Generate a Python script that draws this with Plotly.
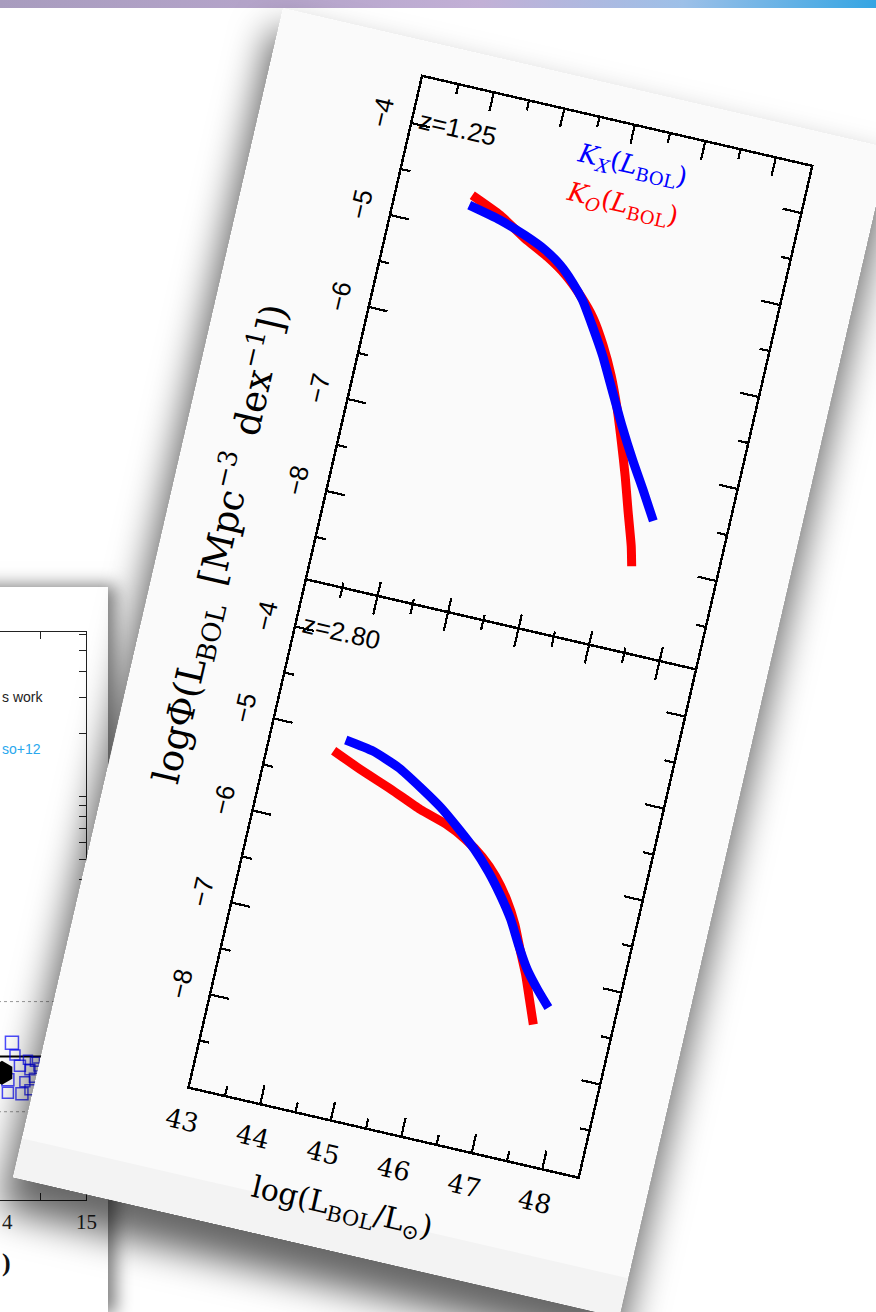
import plotly.graph_objects as go

# ---- Bolometric luminosity functions (log L_BOL [erg/s], log Phi [Mpc^-3 dex^-1]) ----
# z = 1.25
lum_kx_z125 = [44.02, 44.48, 44.87, 45.18, 45.43, 45.65, 45.84, 46.05, 46.28, 46.52, 46.76, 47.02, 47.25, 47.48]
phi_kx_z125 = [-4.71, -4.79, -4.89, -4.99, -5.11, -5.26, -5.42, -5.66, -5.94, -6.28, -6.62, -6.96, -7.24, -7.53]
lum_ko_z125 = [44.03, 44.47, 44.87, 45.24, 45.53, 45.80, 46.04, 46.26, 46.46, 46.64, 46.80, 46.96, 47.11, 47.26, 47.33]
phi_ko_z125 = [-4.60, -4.74, -4.92, -5.06, -5.20, -5.38, -5.58, -5.84, -6.13, -6.45, -6.78, -7.13, -7.49, -7.84, -8.05]
# z = 2.80
lum_kx_z280 = [44.02, 44.42, 44.82, 45.17, 45.51, 45.82, 46.09, 46.35, 46.58, 46.80, 46.98, 47.18, 47.38, 47.58]
phi_kx_z280 = [-5.05, -5.10, -5.21, -5.36, -5.52, -5.70, -5.87, -6.07, -6.28, -6.51, -6.75, -6.99, -7.17, -7.33]
lum_ko_z280 = [43.89, 44.31, 44.78, 45.24, 45.63, 45.94, 46.22, 46.46, 46.68, 46.87, 47.02, 47.17, 47.30, 47.43]
phi_ko_z280 = [-5.19, -5.32, -5.45, -5.59, -5.68, -5.79, -5.93, -6.10, -6.31, -6.55, -6.80, -7.04, -7.29, -7.54]

redshift_labels = ["z=1.25", "z=2.80"]
x_ticks = [43, 44, 45, 46, 47, 48]
x_minor = [43.5, 44.5, 45.5, 46.5, 47.5, 48.5]
y_ticks = [-8, -7, -6, -5, -4]
y_minor = [-8.5, -7.5, -6.5, -5.5, -4.5]

# ---- neighbouring panel (only its right-hand edge is in view) ----
inset_x_ticks = [14, 15]
inset_x_labels = ["4", "15"]
inset_sq_x = [14.194, 14.227, 14.368, 14.444, 14.281, 14.390, 14.477, 14.150, 14.335, 14.433, 14.150, 14.303, 14.390]
inset_sq_y = [0.0654, 0.0572, 0.0542, 0.0530, 0.0507, 0.0485, 0.0501, 0.0434, 0.0425, 0.0444, 0.0376, 0.0372, 0.0389]
inset_sq_size = [13, 10, 9, 9, 11, 10, 8, 12, 10, 9, 11, 12, 10]
inset_dot_x = [14.085]
inset_dot_y = [0.0469]
inset_ref_levels = [0.1032, 0.0305]
inset_mean_level = 0.0562
inset_notes = ["s work", "so+12"]

BLUE = "#0000ff"
RED = "#ff0000"
SLIDE = "#fafafa"
SERIF = "DejaVu Serif"
SANS = "Liberation Sans"

fig = go.Figure()
for xs, ys, col, ax, ay in [
    (lum_ko_z125, phi_ko_z125, RED, "x", "y"),
    (lum_kx_z125, phi_kx_z125, BLUE, "x", "y"),
    (lum_ko_z280, phi_ko_z280, RED, "x2", "y2"),
    (lum_kx_z280, phi_kx_z280, BLUE, "x2", "y2"),
]:
    fig.add_trace(go.Scatter(x=xs, y=ys, mode="lines", xaxis=ax, yaxis=ay,
                             line=dict(color=col, width=9, shape="spline", smoothing=0.5),
                             hoverinfo="skip"))

tick_style = dict(showline=True, linecolor="black", linewidth=2.5, mirror="allticks",
                  ticks="inside", ticklen=18, tickwidth=2.2, tickcolor="black",
                  showgrid=False, zeroline=False)


def x_axis(anchor, labels):
    return dict(tick_style, anchor=anchor, domain=[0, 1], range=[43, 48.5],
                tickmode="array", tickvals=x_ticks, ticktext=[str(v) for v in x_ticks],
                showticklabels=labels, ticklabelstandoff=10,
                tickfont=dict(family=SERIF, size=26, color="black"),
                minor=dict(tickmode="array", tickvals=x_minor, ticks="inside",
                           ticklen=9, tickwidth=2.2, tickcolor="black", showgrid=False))


def y_axis(anchor, domain):
    return dict(tick_style, anchor=anchor, domain=domain, range=[-9, -3.5],
                tickmode="array", tickvals=y_ticks,
                ticktext=["\u2212" + str(abs(v)) for v in y_ticks],
                tickangle=-90, ticklabelstandoff=10,
                tickfont=dict(family=SANS, size=26, color="black"),
                minor=dict(tickmode="array", tickvals=y_minor, ticks="inside",
                           ticklen=9, tickwidth=2.2, tickcolor="black", showgrid=False))


ann = []
for lab, ax, ay in zip(redshift_labels, ["x", "x2"], ["y", "y2"]):
    ann.append(dict(text=lab, xref=ax, yref=ay, x=43, y=-3.95, xanchor="left",
                    yanchor="middle", xshift=4, showarrow=False,
                    font=dict(family=SANS, size=26, color="black")))
ann.append(dict(text="<i>K</i><sub><i>X</i></sub>(<i>L</i><sub>BOL</sub>)", xref="x", yref="y",
                x=46.9, y=-3.92, xanchor="right", yanchor="middle", showarrow=False,
                font=dict(family=SERIF, size=26, color=BLUE)))
ann.append(dict(text="<i>K</i><sub><i>O</i></sub>(<i>L</i><sub>BOL</sub>)", xref="x", yref="y",
                x=46.9, y=-4.34, xanchor="right", yanchor="middle", showarrow=False,
                font=dict(family=SERIF, size=26, color=RED)))
ann.append(dict(text="log(L<sub>BOL</sub>/L<sub>\u2299</sub>)", xref="x2", yref="paper",
                x=45.42, y=0, yshift=-84, xanchor="center", yanchor="middle", showarrow=False,
                font=dict(family=SERIF, size=30, color="black")))
ann.append(dict(text="log\u03a6(L<sub>BOL</sub>\u2002[Mpc<sup>\u22123</sup>\u2002dex<sup>\u22121</sup>])",
                xref="paper", yref="paper", x=0, xshift=-93, y=0.517, textangle=-90,
                xanchor="center", yanchor="middle", showarrow=False,
                font=dict(family=SERIF, size=37, color="black")))

fig.update_layout(
    template="none",
    width=622, height=1200,
    margin=dict(l=152, r=72, t=36, b=128),
    paper_bgcolor=SLIDE, plot_bgcolor=SLIDE,
    showlegend=False,
    xaxis=x_axis("y", False),
    xaxis2=x_axis("y2", True),
    # the two frames overlap by one line width so the shared edge is a single line
    yaxis=y_axis("x", [0.4988, 1]),
    yaxis2=y_axis("x2", [0, 0.5012]),
    annotations=ann,
    shapes=[dict(type="rect", xref="paper", yref="paper", x0=-0.4, x1=1.2, y0=-0.124, y1=-0.085,
                 fillcolor="#f3f3f3", line=dict(width=0), layer="below")],
)

# ---- neighbouring panel ----
# its canvas starts 60 px left of the page; paper x = 0.368 is the page's left edge
PAGE_EDGE = 0.368
inset = go.Figure()
for lvl in inset_ref_levels:
    inset.add_trace(go.Scatter(x=[13.52, 15], y=[lvl, lvl], mode="lines",
                               line=dict(color="#9a9a9a", width=1, dash="dot"), hoverinfo="skip"))
inset.add_trace(go.Scatter(x=[13.52, 15], y=[inset_mean_level, inset_mean_level], mode="lines",
                           line=dict(color="black", width=2), hoverinfo="skip"))
inset.add_trace(go.Scatter(x=inset_sq_x, y=inset_sq_y, mode="markers",
                           marker=dict(symbol="square-open", size=inset_sq_size, color=BLUE,
                                       line=dict(width=1.5, color=BLUE)), hoverinfo="skip"))
inset.add_trace(go.Scatter(x=inset_dot_x, y=inset_dot_y, mode="markers",
                           marker=dict(symbol="hexagon", size=24, color="black"), hoverinfo="skip"))
inset.update_layout(
    template="none", width=168, height=725,
    margin=dict(l=10, r=22, t=45, b=112),
    paper_bgcolor="white", plot_bgcolor="white", showlegend=False,
    xaxis=dict(range=[13.52, 15], tickmode="array", tickvals=inset_x_ticks,
               showline=True, mirror="allticks", linecolor="#222", linewidth=1.3,
               ticks="inside", ticklen=8, tickcolor="#222", showgrid=False, zeroline=False,
               showticklabels=False,
               minor=dict(tickmode="array", tickvals=[14.5], ticks="inside", ticklen=7,
                          tickcolor="#222", showgrid=False)),
    yaxis=dict(type="log", range=[-1.94, 0.79], side="right", showline=True,
               linecolor="#222", linewidth=1.3, ticks="inside", ticklen=7, dtick="D1",
               tickcolor="#222", showticklabels=False, showgrid=False, zeroline=False),
    annotations=[
        dict(text=inset_notes[0], xref="paper", yref="y", x=PAGE_EDGE, y=0.479, xanchor="left",
             yanchor="middle", showarrow=False, font=dict(family=SANS, size=14, color="#222")),
        dict(text=inset_notes[1], xref="paper", yref="y", x=PAGE_EDGE, y=0.229, xanchor="left",
             yanchor="middle", showarrow=False, font=dict(family=SANS, size=14, color="#29a8ee")),
        dict(text=inset_x_labels[0], xref="paper", yref="paper", x=PAGE_EDGE, y=0, yshift=-22,
             xanchor="left", yanchor="middle", showarrow=False,
             font=dict(family="Liberation Serif", size=21, color="#222")),
        dict(text=inset_x_labels[1], xref="x", yref="paper", x=15, y=0, yshift=-22,
             xanchor="center", yanchor="middle", showarrow=False,
             font=dict(family="Liberation Serif", size=21, color="#222")),
        dict(text="<b>)</b>", xref="paper", yref="paper", x=PAGE_EDGE, y=0, yshift=-62,
             xanchor="left", yanchor="middle", showarrow=False,
             font=dict(family="Liberation Serif", size=26, color="#111")),
    ],
)

page_script = """
var gd = document.getElementById('{plot_id}');
var root = document.documentElement;
root.style.margin = '0'; root.style.overflow = 'hidden'; root.style.background = '#ffffff';
document.body.style.margin = '0'; document.body.style.overflow = 'hidden';
var strip = document.createElement('div');
strip.style.cssText = 'position:absolute;left:0;top:0;width:100%;height:8px;z-index:0;' +
  'background:linear-gradient(to right,#a89cbe 0%,#b7a6cc 35%,#c2b0d6 55%,#9dc0e8 78%,#35a5e3 100%);';
document.body.appendChild(strip);
gd.style.position = 'absolute';
gd.style.left = '282.7px';
gd.style.top = '8px';
gd.style.transformOrigin = '0 0';
gd.style.transform = 'rotate(13deg)';
gd.style.boxShadow = '0 28px 36px 6px rgba(0,0,0,0.6)';
gd.style.zIndex = '3';
var side = document.createElement('div');
side.style.cssText = 'position:absolute;left:-60px;top:587px;width:168px;height:725px;z-index:2;' +
  'box-shadow:6px 0 16px 2px rgba(0,0,0,0.5);';
document.body.appendChild(side);
var inset = INSET_JSON;
Plotly.newPlot(side, inset.data, inset.layout, {staticPlot: true, displayModeBar: false});
""".replace("INSET_JSON", inset.to_json())

fig.write_html("out.html", config={"displayModeBar": False, "staticPlot": True},
               post_script=page_script)
